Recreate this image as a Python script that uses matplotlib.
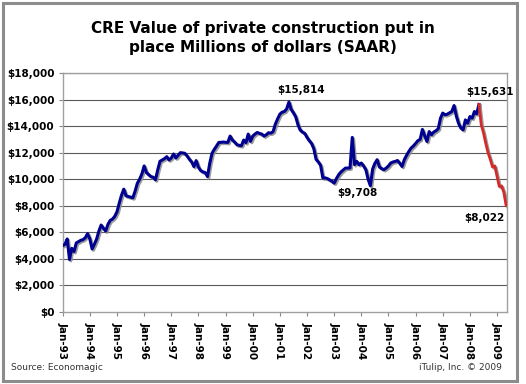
import numpy as np
import matplotlib
matplotlib.use("Agg")
import matplotlib.pyplot as plt
import matplotlib.patheffects as pe
from matplotlib.patches import Rectangle

# monthly values, Jan-93 onward (millions of dollars, SAAR)
y1993 = [5000, 5100, 5500, 3950, 4800, 4550, 5200, 5300, 5400, 5450, 5600, 5900]
y1994 = [5500, 4750, 5100, 5500, 6100, 6550, 6300, 6100, 6600, 6900, 7000, 7200]
y1995 = [7550, 8200, 8800, 9250, 8750, 8700, 8650, 8600, 9100, 9700, 10000, 10400]
y1996 = [11000, 10500, 10350, 10200, 10150, 9950, 10700, 11350, 11450, 11550, 11700, 11450]
y1997 = [11600, 11900, 11600, 11800, 12000, 11980, 11950, 11750, 11500, 11300, 10950, 11400]
y1998 = [10900, 10650, 10550, 10500, 10200, 11200, 11950, 12250, 12500, 12770, 12780, 12800]
y1999 = [12780, 12770, 13250, 12950, 12800, 12600, 12550, 12520, 12950, 12750, 13400, 12850]
y2000 = [13250, 13400, 13520, 13450, 13400, 13250, 13350, 13500, 13470, 13580, 14150, 14550]
y2001 = [14900, 15050, 15100, 15300, 15814, 15250, 15000, 14700, 14100, 13700, 13550, 13450]
y2002 = [13150, 12900, 12700, 12300, 11500, 11300, 11050, 10100, 10100, 10050, 9950, 9850]
y2003 = [9708, 10050, 10340, 10550, 10700, 10840, 10840, 10850, 13150, 11100, 11340, 11090]
y2004 = [11220, 11000, 10720, 10000, 9510, 10770, 11200, 11470, 10920, 10800, 10720, 10840]
y2005 = [11000, 11220, 11300, 11340, 11410, 11200, 10960, 11470, 11800, 12090, 12350, 12500]
y2006 = [12700, 12900, 13000, 13750, 13270, 12840, 13590, 13350, 13550, 13650, 13800, 14600]
y2007 = [14980, 14850, 14900, 15000, 15100, 15550, 14750, 14200, 13850, 13720, 14470, 14220]
y2008 = [14720, 14600, 15100, 14920, 15631, 14100, 13500, 12700, 12000, 11500, 10920, 11000]
y2009 = [10210, 9450, 9500, 9000, 8022]

values = np.array(y1993 + y1994 + y1995 + y1996 + y1997 + y1998 + y1999 + y2000 + y2001
                  + y2002 + y2003 + y2004 + y2005 + y2006 + y2007 + y2008 + y2009)
months = np.arange(len(values))
red_start = 184  # May-08 peak, decline drawn in red

year_labels = ["Jan-%02d" % (y % 100) for y in range(1993, 2010)]
y_ticks = list(range(0, 18001, 2000))

annotations = [(100, 15814, "$15,814"), (120, 9708, "$9,708"),
               (184, 15631, "$15,631"), (196, 8022, "$8,022")]

fig = plt.figure(figsize=(5.26, 3.84), dpi=100)
fig.patches.append(Rectangle((0.006, 0.008), 0.976, 0.984, transform=fig.transFigure,
                             fill=False, edgecolor="#8c8c8c", linewidth=2.2))

ax = fig.add_axes([0.1192, 0.1875, 0.8447, 0.6224])
ax.set_xlim(0, 196.4)
ax.set_ylim(0, 18000)

for v in y_ticks[1:]:
    ax.axhline(v, color="#5a5a5a", linewidth=0.8, zorder=1)

shadow = [pe.SimpleLineShadow(offset=(1.0, -1.0), shadow_color="#909090", alpha=0.9), pe.Normal()]
ax.plot(months[:red_start + 1], values[:red_start + 1], color="#000090", linewidth=2.2,
        solid_joinstyle="round", path_effects=shadow, zorder=3)
ax.plot(months[red_start:], values[red_start:], color="#d42a2a", linewidth=2.0,
        solid_joinstyle="round", path_effects=shadow, zorder=3)

ax.set_yticks(y_ticks)
ax.set_yticklabels(["${:,}".format(v) for v in y_ticks], fontsize=7.5, fontweight="bold")
ax.set_xticks(np.arange(0, 193, 12))
ax.set_xticklabels(year_labels, rotation=270, fontsize=7.5, fontweight="bold", va="top", ha="center")
ax.tick_params(axis="both", length=3, width=0.8, color="#888888", pad=3)
ax.tick_params(axis="x", pad=4)

for s in ax.spines.values():
    s.set_color("#a0a0a0")
    s.set_linewidth(1.0)

offsets = {"$15,814": (9, 9), "$9,708": (17, -7), "$15,631": (8, 9), "$8,022": (-16, -9)}
for m, v, txt in annotations:
    dx, dy = offsets[txt]
    ax.annotate(txt, (m, v), xytext=(dx, dy), textcoords="offset points",
                ha="center", va="center", fontsize=7.5, fontweight="bold", annotation_clip=False)

fig.text(0.5, 0.901, "CRE Value of private construction put in\nplace Millions of dollars (SAAR)",
         ha="center", va="center", fontsize=11, fontweight="bold", linespacing=1.3)
fig.text(0.02, 0.044, "Source: Economagic", fontsize=6.5, color="#333333", va="center")
fig.text(0.955, 0.044, "iTulip, Inc. \u00a9 2009", fontsize=6.5, color="#333333", va="center", ha="right")

fig.savefig("out.png", dpi=100)
